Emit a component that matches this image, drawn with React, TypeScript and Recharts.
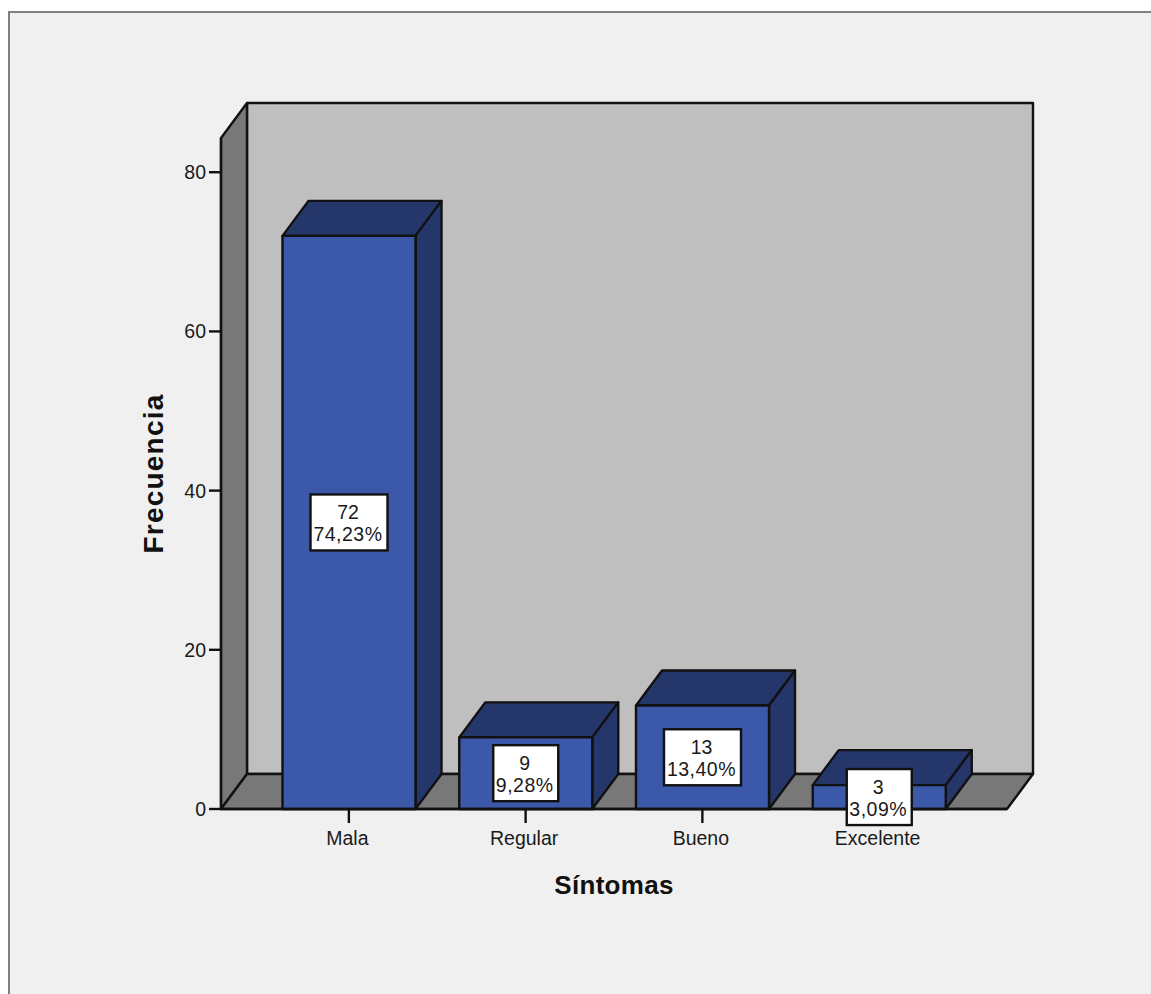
import React from 'react';
import { BarChart, Bar, XAxis, YAxis, ReferenceArea, LabelList } from 'recharts';

// Frequency of each symptom rating
const categories = ['Mala', 'Regular', 'Bueno', 'Excelente'];
const counts = [72, 9, 13, 3];
const percents = ['74,23%', '9,28%', '13,40%', '3,09%'];
const yTicks = [0, 20, 40, 60, 80];
const yMax = 84.3;

const rows = categories.map((name, i) => ({ name, count: counts[i] }));

const DEPTH_X = 26;
const DEPTH_Y = 35;
const AXIS_PAD = 39.5;
const INK = '#111111';
const LINE_WIDTH = 2.4;
const FONT = '"Liberation Sans", Arial, sans-serif';

// Box walls and floor, built from the plot rectangle
const Room = ({ x: bandLeft, y, width: bandWidth, height }: any) => {
  const x = bandLeft - AXIS_PAD;
  const right = bandLeft + bandWidth + AXIS_PAD;
  const bottom = y + height;
  const line = { stroke: INK, strokeWidth: LINE_WIDTH, strokeLinejoin: 'round' as const };
  return (
    <g>
      <polygon
        points={`${x + DEPTH_X},${y - DEPTH_Y} ${right + DEPTH_X},${y - DEPTH_Y} ${right + DEPTH_X},${bottom - DEPTH_Y} ${x + DEPTH_X},${bottom - DEPTH_Y}`}
        fill="#bfbfbf"
        {...line}
      />
      <polygon
        points={`${x},${y} ${x + DEPTH_X},${y - DEPTH_Y} ${x + DEPTH_X},${bottom - DEPTH_Y} ${x},${bottom}`}
        fill="#787878"
        {...line}
      />
      <polygon
        points={`${x},${bottom} ${x + DEPTH_X},${bottom - DEPTH_Y} ${right + DEPTH_X},${bottom - DEPTH_Y} ${right},${bottom}`}
        fill="#787878"
        {...line}
      />
    </g>
  );
};

// Extruded bar: front face plus the top and side faces
const Bar3D = ({ x, y, width, height }: any) => {
  const line = { stroke: INK, strokeWidth: LINE_WIDTH, strokeLinejoin: 'round' as const };
  const right = x + width;
  const bottom = y + height;
  return (
    <g>
      <polygon
        points={`${x},${y} ${x + DEPTH_X},${y - DEPTH_Y} ${right + DEPTH_X},${y - DEPTH_Y} ${right},${y}`}
        fill="#25366b"
        {...line}
      />
      <polygon
        points={`${right},${y} ${right + DEPTH_X},${y - DEPTH_Y} ${right + DEPTH_X},${bottom - DEPTH_Y} ${right},${bottom}`}
        fill="#25366b"
        {...line}
      />
      <rect x={x} y={y} width={width} height={height} fill="#3c58a8" {...line} />
    </g>
  );
};

// White tag with the count and its share, centred on the bar front
const ValueTag = ({ x, y, width, height, value, index }: any) => {
  const cx = x + width / 2 - 1;
  const cy = y + height / 2;
  const share = percents[index];
  const boxWidth = share.length * 12 + 5;
  const text = { textAnchor: 'middle' as const, fontFamily: FONT, fontSize: 19.5, fill: '#1a1a1a' };
  return (
    <g>
      <rect x={cx - boxWidth / 2 + 1} y={cy - 28} width={boxWidth} height={56} fill="#ffffff" stroke={INK} strokeWidth={LINE_WIDTH} />
      <text x={cx} y={cy - 3} {...text}>{value}</text>
      <text x={cx} y={cy + 19} letterSpacing={0.5} {...text}>{share}</text>
    </g>
  );
};

const axisTick = { fontFamily: FONT, fontSize: 19.5, fill: '#1a1a1a' };
const axisTitle = { fontFamily: FONT, fontWeight: 700, fill: '#111111' };

export default function App() {
  return (
    <div style={{ position: 'absolute', left: 0, top: 0, width: 1151, height: 994, overflow: 'hidden', background: '#ffffff' }}>
      <div
        style={{
          position: 'absolute',
          left: 8,
          top: 11,
          width: 1200,
          height: 1100,
          background: '#f0f0f0',
          borderLeft: '2px solid #808080',
          borderTop: '2px solid #808080',
        }}
      />
      <div style={{ position: 'absolute', left: 0, top: 0 }}>
        <BarChart
          width={1151}
          height={994}
          data={rows}
          margin={{ top: 138, right: 144, bottom: 85, left: 131 }}
          barSize={133}
        >
          <ReferenceArea y1={0} y2={yMax} shape={Room} />
          <XAxis
            dataKey="name"
            height={100}
            padding={{ left: AXIS_PAD, right: AXIS_PAD }}
            tickSize={14}
            tickMargin={8}
            tick={{ ...axisTick, dx: -1.5 }}
            interval={0}
            axisLine={{ stroke: INK, strokeWidth: LINE_WIDTH }}
            tickLine={{ stroke: INK, strokeWidth: LINE_WIDTH }}
            label={{ value: 'Síntomas', position: 'insideBottom', offset: 15, style: { ...axisTitle, fontSize: 26, letterSpacing: 0.3 } }}
          />
          <YAxis
            type="number"
            width={90}
            domain={[0, yMax]}
            ticks={yTicks}
            tickSize={12}
            tickMargin={3}
            tick={axisTick}
            axisLine={{ stroke: INK, strokeWidth: LINE_WIDTH }}
            tickLine={{ stroke: INK, strokeWidth: LINE_WIDTH }}
            label={{ value: 'Frecuencia', angle: -90, position: 'insideLeft', offset: 22, style: { ...axisTitle, fontSize: 28, letterSpacing: 1.2, textAnchor: 'middle' } }}
          />
          <Bar dataKey="count" shape={Bar3D} isAnimationActive={false}>
            <LabelList dataKey="count" content={ValueTag} />
          </Bar>
        </BarChart>
      </div>
    </div>
  );
}
